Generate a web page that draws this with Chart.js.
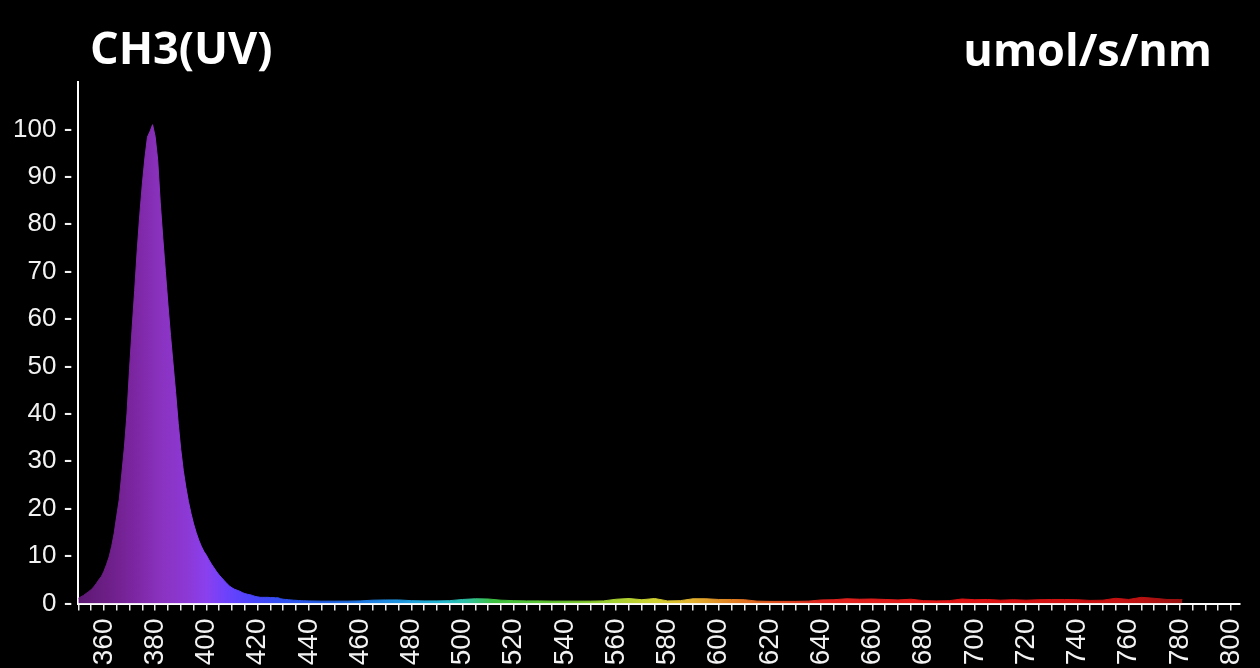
<!DOCTYPE html>
<html>
<head>
<meta charset="utf-8">
<script src="https://cdn.jsdelivr.net/npm/chart.js@4.4.1/dist/chart.umd.min.js"></script>
<style>
  html, body { margin: 0; padding: 0; background: #000; }
  #wrap { width: 1260px; height: 668px; position: relative; }
</style>
</head>
<body>
<div id="wrap"><canvas id="c"></canvas></div>
<script>
// ---- data ----
const chartTitle = 'CH3(UV)';
const unitLabel = 'umol/s/nm';

const wavelengthsNm = [
  350,351,352,353,354,355,356,357,358,359,
  360,361,362,363,364,365,366,367,368,369,
  370,371,372,373,374,375,376,377,378,379,
  380,381,382,383,384,385,386,387,388,389,
  390,391,392,393,394,395,396,397,398,399,
  400,401,402,403,404,405,406,407,408,409,
  410,411,412,413,414,415,416,417,418,419,
  420,421,422,423,424,425,426,427,428,429,
  430,431,432,433,434,435,436,437,438,439,
  440,445,450,455,460,465,470,475,480,485,
  490,495,500,505,510,515,520,525,530,535,
  540,545,550,555,560,565,570,575,580,585,
  590,595,600,605,610,615,620,625,630,635,
  640,645,650,655,660,665,670,675,680,685,
  690,695,700,705,710,715,720,725,730,735,
  740,745,750,755,760,765,770,775,780,781
];

const photonFlux = [
  1.1,1.4,1.7,2.1,2.5,2.9,3.5,4.2,5.0,5.7,
  6.8,8.2,9.8,12.0,14.8,18.5,22.0,27.5,33.0,40.0,
  49.5,58.0,66.0,74.5,82.0,88.5,94.0,98.4,99.6,101.0,
  98.5,93.5,84.5,77.0,70.0,63.0,56.5,50.5,44.5,38.0,
  32.5,28.0,24.5,21.5,19.0,16.8,15.0,13.4,12.1,11.0,
  10.2,9.2,8.3,7.5,6.7,6.0,5.4,4.8,4.2,3.7,
  3.3,3.0,2.8,2.6,2.3,2.1,1.95,1.85,1.7,1.5,
  1.4,1.3,1.3,1.3,1.3,1.25,1.25,1.2,1.2,1.0,
  0.9,0.85,0.8,0.75,0.7,0.67,0.62,0.6,0.58,0.56,
  0.55,0.5,0.5,0.5,0.55,0.7,0.75,0.75,0.6,0.55,
  0.55,0.6,0.85,1.0,0.95,0.7,0.6,0.55,0.55,0.5,
  0.5,0.5,0.5,0.55,0.9,1.05,0.8,1.05,0.55,0.6,
  1.0,1.0,0.85,0.85,0.8,0.5,0.45,0.45,0.45,0.5,
  0.75,0.8,1.0,0.9,0.95,0.85,0.75,0.9,0.6,0.55,
  0.6,0.95,0.8,0.85,0.7,0.8,0.7,0.8,0.85,0.85,
  0.8,0.65,0.7,1.1,0.85,1.3,1.1,0.85,0.85,0.85
];

const xMin = 350, xMax = 803.5, xStep = 5, xLabelEvery = 20;
const yMin = 0, yMax = 110, yStep = 10, yLabelMax = 100;

// ---- styles ----
const spectrumStopsNm = [350, 362, 372, 382, 392, 400, 408, 418, 430, 450, 475, 492, 502, 512, 540, 560, 575, 590, 605, 622, 640, 700, 760, 781];
const spectrumColors  = ['#5c1872','#6e1f88','#7c26a2','#8a32bf','#8c38d4','#8a40ee','#6c42fc','#4a44fc','#3050f0','#2064e4','#1e94e0','#22b8d0','#2ec0a0','#3cc040','#6cc830','#a6d030','#d0d030','#e2b030','#e08022','#e05020','#e02420','#e01414','#c41212','#961010'];

function spectrumGradient(ctx) {
  const chart = ctx.chart;
  const area = chart.chartArea;
  if (!area) return '#8a32bf';
  const xs = chart.scales.x;
  const x0 = xs.getPixelForValue(xMin), x1 = xs.getPixelForValue(xMax);
  const g = chart.ctx.createLinearGradient(x0, 0, x1, 0);
  spectrumStopsNm.forEach((nm, i) => {
    const p = (xs.getPixelForValue(nm) - x0) / (x1 - x0);
    g.addColorStop(Math.min(1, Math.max(0, p)), spectrumColors[i]);
  });
  return g;
}

const titlePlugin = {
  id: 'cornerTitles',
  afterDraw(chart) {
    const c = chart.ctx;
    c.save();
    c.fillStyle = '#ffffff';
    c.font = 'bold 45px "Open Sans"';
    c.textBaseline = 'alphabetic';
    c.textAlign = 'left';
    c.fillText(chartTitle, 90, 64);
    c.textAlign = 'right';
    c.fillText(unitLabel, 1212, 66);
    c.restore();
  }
};

const points = wavelengthsNm.map((nm, i) => ({ x: nm, y: photonFlux[i] }));

new Chart(document.getElementById('c'), {
  type: 'line',
  data: {
    datasets: [{
      data: points,
      fill: 'origin',
      backgroundColor: (ctx) => spectrumGradient(ctx),
      borderColor: (ctx) => spectrumGradient(ctx),
      borderWidth: 1,
      pointRadius: 0,
      tension: 0
    }]
  },
  options: {
    responsive: true,
    maintainAspectRatio: false,
    animation: false,
    layout: { padding: { top: 82, right: 20, left: 0, bottom: 0 } },
    plugins: { legend: { display: false }, tooltip: { enabled: false }, title: { display: false } },
    scales: {
      x: {
        type: 'linear',
        min: xMin,
        max: xMax,
        afterFit: (s) => { s.height = 64.5; s.paddingLeft = 0; s.paddingRight = 0; },
        border: { display: true, color: '#ffffff', width: 2 },
        grid: { display: true, drawOnChartArea: false, drawTicks: true, tickLength: 7, color: '#e8e8e8', lineWidth: 1.5 },
        ticks: {
          stepSize: xStep,
          includeBounds: false,
          autoSkip: false,
          maxRotation: 90,
          minRotation: 90,
          padding: 8,
          color: '#f2f2f2',
          font: { family: '"Liberation Sans", Arial, sans-serif', size: 28 },
          callback: (v) => (v % xLabelEvery === 0 ? String(v) : '')
        }
      },
      y: {
        min: yMin,
        max: yMax,
        afterFit: (s) => { s.width = 78.3; s.paddingTop = 0; s.paddingBottom = 0; },
        border: { display: true, color: '#ffffff', width: 2 },
        grid: { display: false, drawTicks: false },
        ticks: {
          stepSize: yStep,
          padding: 6,
          color: '#f2f2f2',
          font: { family: '"Liberation Sans", Arial, sans-serif', size: 26 },
          callback: (v) => (v <= yLabelMax ? v + ' -' : '')
        }
      }
    }
  },
  plugins: [titlePlugin]
});
</script>
</body>
</html>
